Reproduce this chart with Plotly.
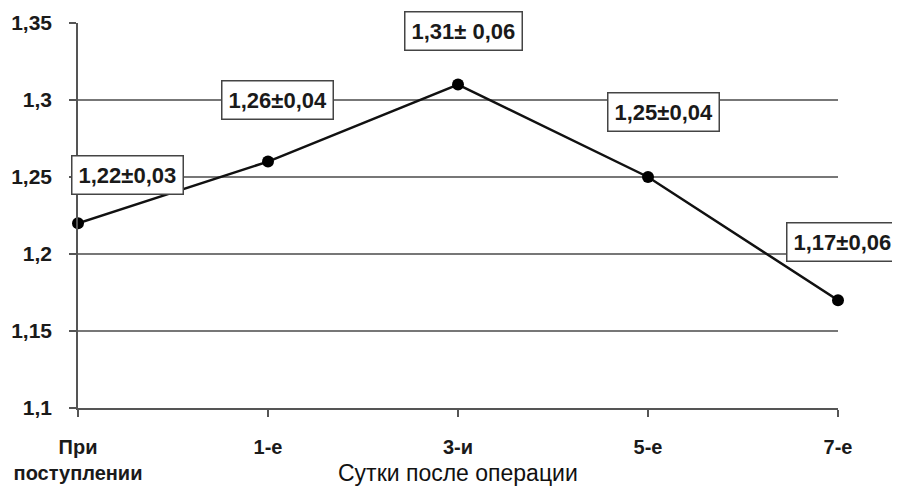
import plotly.graph_objects as go

categories = ["При<br>поступлении", "1-е", "3-и", "5-е", "7-е"]
values = [1.22, 1.26, 1.31, 1.25, 1.17]
labels = ["1,22±0,03", "1,26±0,04", "1,31± 0,06", "1,25±0,04", "1,17±0,06"]
label_x = [0.26, 1.05, 2.03, 3.08, 4.025]
label_y = [1.2516, 1.2997, 1.3451, 1.2919, 1.2081]
y_ticks = [1.1, 1.15, 1.2, 1.25, 1.3, 1.35]
y_ticktext = ["1,1", "1,15", "1,2", "1,25", "1,3", "1,35"]
x_title = "Сутки после операции"

FONT = "Liberation Sans, Arial, sans-serif"
TXT = "#1a1a1a"
xs = list(range(len(categories)))
X_RANGE = [0, len(categories) - 1]
Y_RANGE = [1.1, 1.35]

fig = go.Figure()
fig.add_trace(go.Scatter(
    x=xs, y=values, mode="lines+markers",
    line=dict(color="#111111", width=2.5),
    marker=dict(color="#000000", size=12),
    cliponaxis=False, showlegend=False, hoverinfo="skip",
))

for lx, ly, t in zip(label_x, label_y, labels):
    fig.add_annotation(
        x=(lx - X_RANGE[0]) / (X_RANGE[1] - X_RANGE[0]),
        y=(ly - Y_RANGE[0]) / (Y_RANGE[1] - Y_RANGE[0]),
        xref="paper", yref="paper", xanchor="center", yanchor="middle",
        text="<b>" + t + "</b>", showarrow=False,
        font=dict(family=FONT, size=22, color=TXT),
        bgcolor="white", bordercolor="#444444", borderwidth=1.5, borderpad=6,
    )

fig.add_annotation(
    x=0.5, y=-0.168, xref="paper", yref="paper", text=x_title, showarrow=False,
    xanchor="center", yanchor="middle",
    font=dict(family=FONT, size=23, color="#111111"),
)

fig.update_layout(
    width=892, height=478,
    margin=dict(l=70, r=62, t=14.5, b=78, autoexpand=False),
    paper_bgcolor="white", plot_bgcolor="white",
    font=dict(family=FONT, size=21, color=TXT),
    xaxis=dict(
        range=X_RANGE, tickvals=xs, ticktext=["<b>" + c + "</b>" for c in categories],
        showgrid=False, zeroline=False, showline=True, linecolor="#555555", linewidth=1.5,
        ticks="outside", ticklen=7, tickcolor="#555555", tickwidth=1.5,
        tickfont=dict(family=FONT, size=20, color=TXT),
        ticklabelstandoff=13, automargin=False,
    ),
    yaxis=dict(
        range=Y_RANGE, tickvals=y_ticks, ticktext=["<b>" + t + "</b>" for t in y_ticktext],
        showgrid=True, gridcolor="#777777", gridwidth=1.5, zeroline=False,
        showline=True, linecolor="#555555", linewidth=1.5,
        ticks="outside", ticklen=7, tickcolor="#555555", tickwidth=1.5,
        tickfont=dict(family=FONT, size=21, color=TXT),
        ticklabelstandoff=13, automargin=False,
    ),
)

fig.write_html("out.html")
